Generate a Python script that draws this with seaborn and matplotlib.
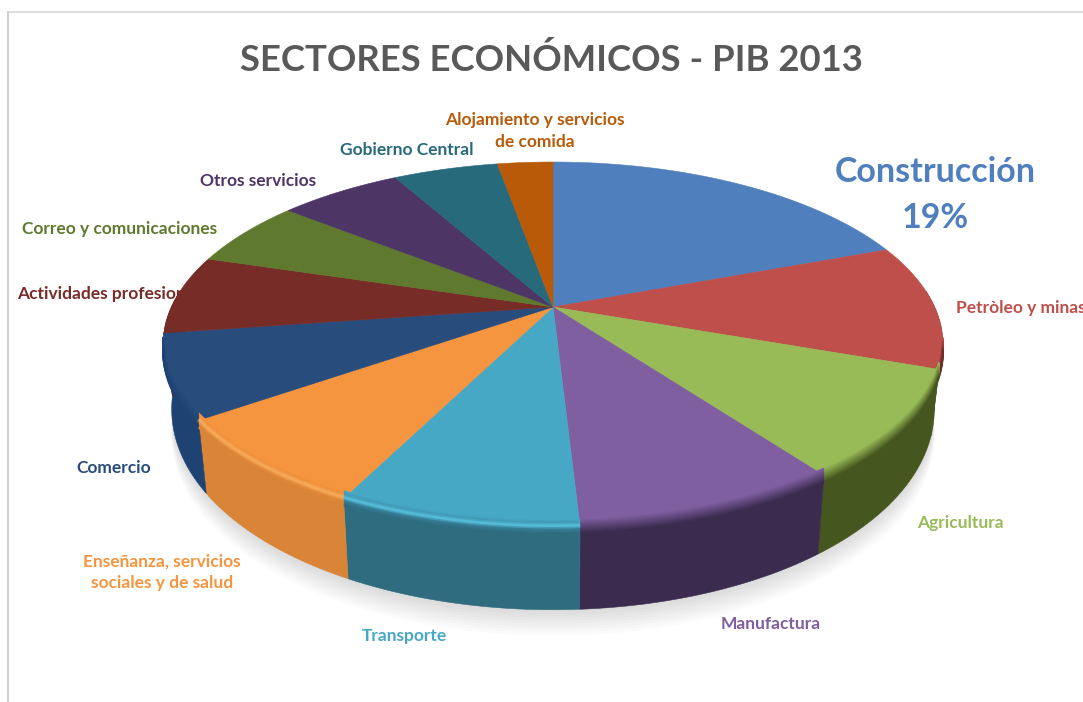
import matplotlib
matplotlib.use("Agg")
import matplotlib.pyplot as plt
from matplotlib.colors import to_rgb
import numpy as np
import seaborn as sns

sectors = [
    "Construcción", "Petròleo y minas", "Agricultura", "Manufactura",
    "Transporte", "Enseñanza, servicios\nsociales y de salud", "Comercio",
    "Actividades profesionales", "Correo y comunicaciones", "Otros servicios",
    "Gobierno Central", "Alojamiento y servicios\nde comida",
]
# shares, only the 19% is printed on it
shares = [19.3, 11.1, 9.5, 9.2, 8.3, 7.9, 7.4, 7.0, 6.0, 6.2, 5.3, 2.8]

face_colors = ["#4F7FBD", "#BE4F4B", "#98BA57", "#7F5FA0", "#47A8C6", "#F5953F",
               "#284C7C", "#772C28", "#5F7A2E", "#4D3566", "#276A7C", "#B85A08"]
# the oil wedge has almost no wall of its own, the green one runs past it
wall_colors = ["#3A5F8C", "#46561F", "#46561F", "#3A2B4F", "#2F6C80", "#D98436",
               "#1E4373", "#591F1E", "#46561F", "#3A2B4F", "#1D5060", "#8A4306"]
edge_colors = ["#3A5F8C", "#6E2C2A", "#46561F", "#3A2B4F", "#2F6C80", "#D98436",
               "#1E4373", "#591F1E", "#46561F", "#3A2B4F", "#1D5060", "#8A4306"]
highlights = [None, None, None, None, "#62D4F2", "#FFB866",
              None, None, None, None, None, None]

label_pos = [(935, 195), (1021, 308), (960, 523), (771, 624), (404, 636), (162, 572),
             (114, 468), (17, 294), (120, 229), (258, 181), (407, 150), (535, 131)]
label_size = [24.5, 12.5, 12.5, 12.5, 12.5, 12.5, 12.5, 12.5, 12.5, 12.5, 12.5, 12.5]

CX, CY = 553, 307
A, B, K = 174.7, 381.6, 0.205


def project(theta):
    # top of the disc is further away, so it gets squeezed
    u, v = np.sin(theta), np.cos(theta)
    w = 1 + K * v
    return CX + B * u / w, CY - A * v / w, v


def wall_bottom(x, y, v):
    return CX + (x - CX) * 0.978, y + 60 - 23 * v


def blend(c1, c2, t):
    c1, c2 = np.array(to_rgb(c1)), np.array(to_rgb(c2))
    return tuple(c1 * (1 - t) + c2 * t)


sns.set_theme(style="white")
plt.rcParams["font.family"] = ["Lato", "DejaVu Sans"]

fig = plt.figure(figsize=(10.83, 7.02), dpi=100)
ax = fig.add_axes([0, 0, 1, 1])
ax.set_xlim(0, 1083)
ax.set_ylim(702, 0)
ax.axis("off")

ax.plot([8, 1083], [12, 12], color="#D9D9D9", lw=1.2, zorder=1)
ax.plot([8, 8], [12, 702], color="#D0D0D0", lw=1.5, zorder=1)

edges = np.cumsum([0] + shares) / sum(shares) * 2 * np.pi

# soft shadow below the pie
ring = np.linspace(0, 2 * np.pi, 240)
rx, ry, rv = project(ring)
bx, by = wall_bottom(rx, ry, rv)
for d in range(2, 28, 3):
    ax.fill(bx, by + d, color="#808080", alpha=0.03, lw=0, zorder=0)

for name, pos, size, color in zip(sectors, label_pos, label_size, face_colors):
    ha = "left" if name.startswith("Actividades") else "center"
    big = size > 20
    ax.text(pos[0], pos[1], f"{name}\n19%" if big else name, color=color, fontsize=size,
            fontweight="bold", ha=ha, va="center", linespacing=1.5 if big else 1.42, zorder=1)

ax.text(551, 60, "SECTORES ECONÓMICOS - PIB 2013", color="#595959", fontsize=26.3,
        fontweight="bold", ha="center", va="center", zorder=1)

for i in range(len(shares)):
    t = np.linspace(edges[i], edges[i + 1], 80)
    x, y, v = project(t)
    low = v < 0.1
    if low.sum() > 1:
        xb, yb = wall_bottom(x[low], y[low], v[low])
        ax.fill(np.r_[x[low], xb[::-1]], np.r_[y[low], yb[::-1]], color=wall_colors[i],
                ec=wall_colors[i], lw=0.4, zorder=2)

for i in range(len(shares)):
    t = np.linspace(edges[i], edges[i + 1], 80)
    x, y, v = project(t)
    ax.fill(np.r_[CX, x], np.r_[CY, y], color=face_colors[i], ec=face_colors[i], lw=0.4, zorder=3)
    low = v < -0.2
    if low.sum() > 1:
        # blurred edge between face and wall
        for d in np.arange(-7, 8, 1.0):
            mix = (d + 7) / 14
            ax.plot(x[low], y[low] + d, color=blend(face_colors[i], edge_colors[i], mix),
                    lw=1.4, zorder=4, solid_capstyle="butt")
        if highlights[i]:
            ax.plot(x[low], y[low] - 1, color=highlights[i], lw=4, alpha=0.3, zorder=5,
                    solid_capstyle="butt")
            ax.plot(x[low], y[low] - 1, color=highlights[i], lw=1.8, alpha=0.5, zorder=5,
                    solid_capstyle="butt")

fig.savefig("out.png", dpi=100)
